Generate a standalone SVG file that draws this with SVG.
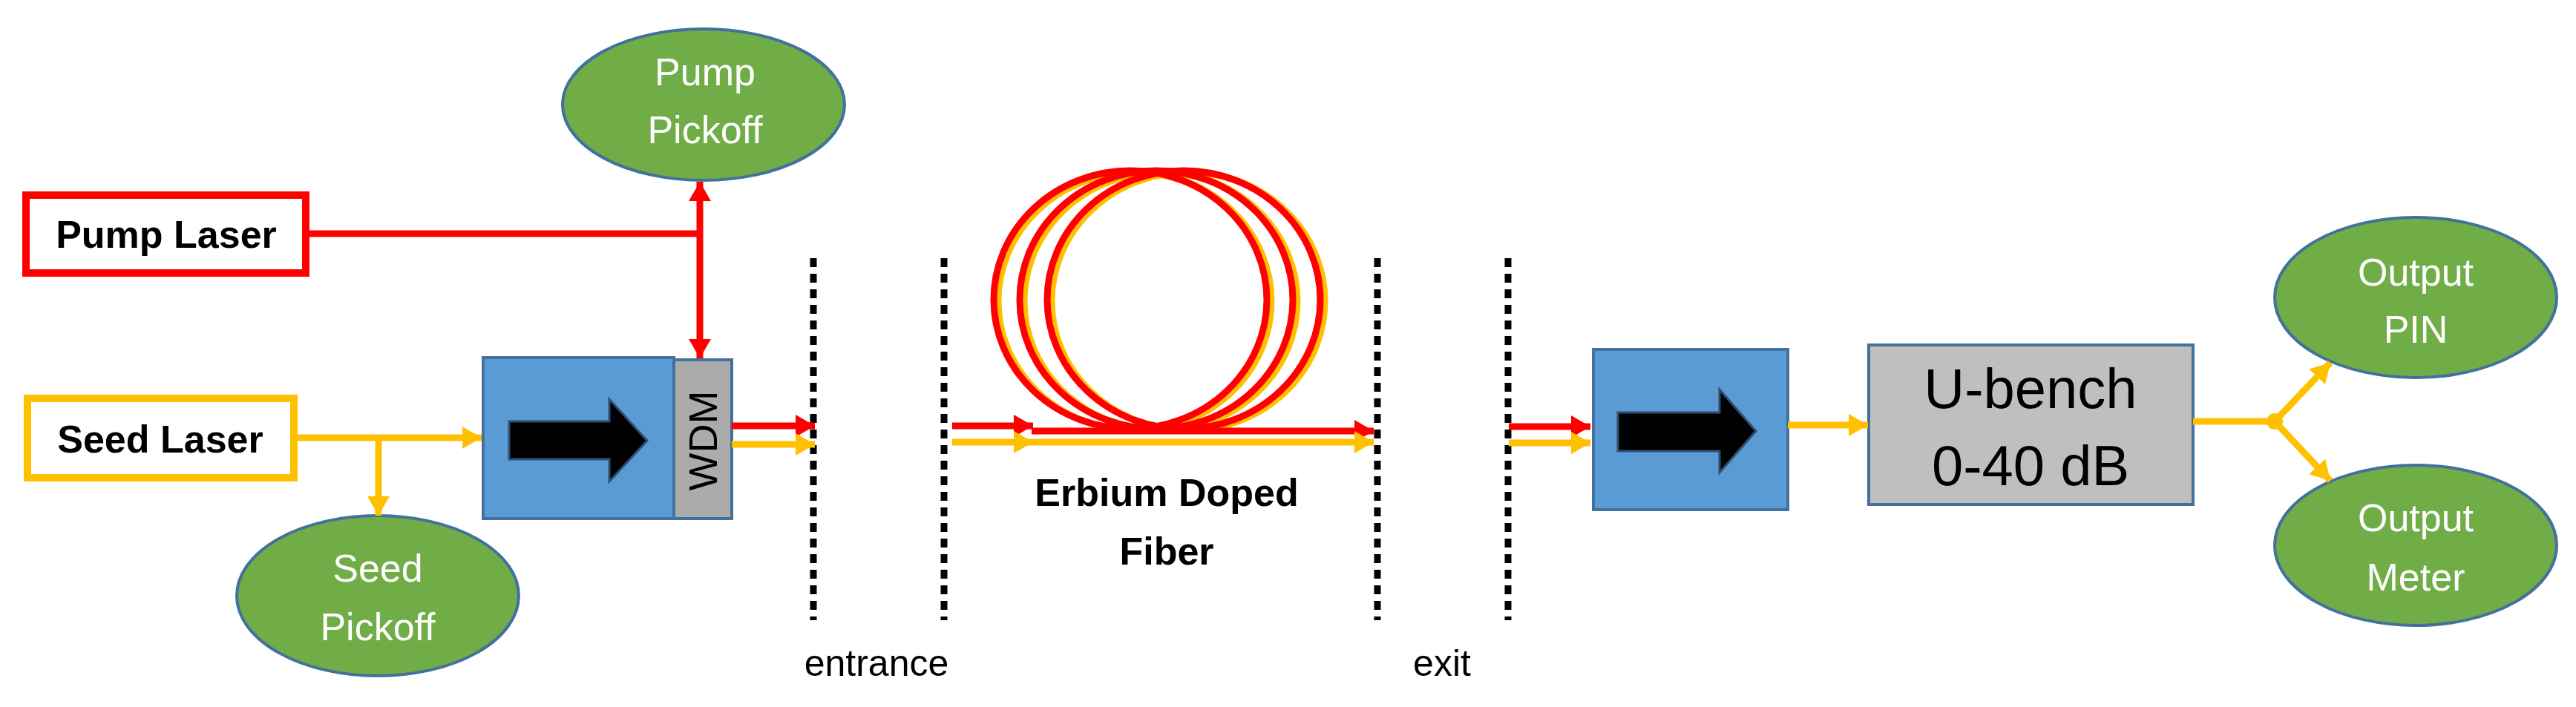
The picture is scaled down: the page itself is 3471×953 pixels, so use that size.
<svg xmlns="http://www.w3.org/2000/svg" width="3471" height="953" viewBox="0 0 3471 953">
<style>
.green{fill:#70AD47;stroke:#41719C;stroke-width:4}
.wt{fill:#fff;font-family:"Liberation Sans",Arial,sans-serif;font-size:52px;text-anchor:middle}
.bt{fill:#000;font-family:"Liberation Sans",Arial,sans-serif;font-size:52px;font-weight:bold;text-anchor:middle}
.nt{fill:#000;font-family:"Liberation Sans",Arial,sans-serif;font-size:50px;text-anchor:middle}
.r{stroke:#FF0000;stroke-width:9;fill:none}
.y{stroke:#FFC000;stroke-width:9;fill:none}
.dot{stroke:#000;stroke-width:9;stroke-dasharray:12 9;fill:none}
.blue{fill:#5B9BD5;stroke:#41719C;stroke-width:4}
</style>
<defs>
<marker id="ar" markerUnits="userSpaceOnUse" markerWidth="28" markerHeight="30" refX="26" refY="15" orient="auto"><path d="M0,0 L26,15 L0,30 Z" fill="#FF0000"/></marker>
<marker id="ay" markerUnits="userSpaceOnUse" markerWidth="28" markerHeight="30" refX="26" refY="15" orient="auto"><path d="M0,0 L26,15 L0,30 Z" fill="#FFC000"/></marker>
</defs>
<rect width="3471" height="953" fill="#fff"/>
<g id="pump-laser"><rect x="35" y="263" width="377" height="105" fill="#fff" stroke="#FF0000" stroke-width="10"/><text class="bt" x="224" y="334">Pump Laser</text></g>
<g id="seed-laser"><rect x="37" y="537" width="359" height="107" fill="#fff" stroke="#FFC000" stroke-width="10"/><text class="bt" x="216" y="610">Seed Laser</text></g>
<g id="pump-pickoff"><ellipse class="green" cx="948" cy="141" rx="190" ry="102"/><text class="wt" x="950" y="115">Pump</text><text class="wt" x="950" y="193">Pickoff</text></g>
<g id="seed-pickoff"><ellipse class="green" cx="509" cy="803" rx="190" ry="108"/><text class="wt" x="509" y="784">Seed</text><text class="wt" x="509" y="863">Pickoff</text></g>
<g id="isolator1"><rect class="blue" x="651" y="482" width="257" height="217"/><path d="M686,568 L821,568 L821,538 L872,594 L821,649 L821,619 L686,619 Z" fill="#000" stroke="#2F4F6F" stroke-width="3"/></g>
<g id="wdm"><rect x="908" y="485" width="78" height="214" fill="#ABABAB" stroke="#41719C" stroke-width="4"/><text transform="translate(966,594) rotate(-90)" style="font-family:'Liberation Sans',Arial,sans-serif;font-size:54px;text-anchor:middle">WDM</text></g>
<g id="fiber">
<ellipse cx="1529" cy="406" rx="184" ry="174" class="y"/><ellipse cx="1564" cy="406" rx="184" ry="174" class="y"/><ellipse cx="1601" cy="406" rx="184" ry="174" class="y"/>
<ellipse cx="1523" cy="404" rx="184" ry="174" class="r"/><ellipse cx="1558" cy="404" rx="184" ry="174" class="r"/><ellipse cx="1595" cy="404" rx="184" ry="174" class="r"/>
<text class="bt" x="1572" y="682">Erbium Doped</text><text class="bt" x="1572" y="761">Fiber</text></g>
<g id="isolator2"><rect class="blue" x="2147" y="471" width="262" height="216"/><path d="M2180,556 L2317,556 L2317,525 L2366,581 L2317,637 L2317,608 L2180,608 Z" fill="#000" stroke="#2F4F6F" stroke-width="3"/></g>
<g id="ubench"><rect x="2518" y="465" width="437" height="215" fill="#BFBFBF" stroke="#41719C" stroke-width="4"/><text x="2736" y="550" style="font-family:'Liberation Sans',Arial,sans-serif;font-size:76px;text-anchor:middle">U-bench</text><text x="2736" y="654" style="font-family:'Liberation Sans',Arial,sans-serif;font-size:76px;text-anchor:middle">0-40 dB</text></g>
<g id="output-pin"><ellipse class="green" cx="3255" cy="401" rx="190" ry="108"/><text class="wt" x="3255" y="385">Output</text><text class="wt" x="3255" y="462">PIN</text></g>
<g id="output-meter"><ellipse class="green" cx="3255" cy="735" rx="190" ry="108"/><text class="wt" x="3255" y="716">Output</text><text class="wt" x="3255" y="796">Meter</text></g>
<g id="markers-text">
<line class="dot" x1="1096" y1="348" x2="1096" y2="836"/>
<line class="dot" x1="1272" y1="348" x2="1272" y2="836"/>
<line class="dot" x1="1856" y1="348" x2="1856" y2="836"/>
<line class="dot" x1="2032" y1="348" x2="2032" y2="836"/>
<text class="nt" x="1181" y="911">entrance</text><text class="nt" x="1943" y="911">exit</text>
</g>
<g id="connectors">
<polyline class="r" points="412,315 943,315"/>
<line class="r" x1="943" y1="315" x2="943" y2="245" marker-end="url(#ar)"/>
<line class="r" x1="943" y1="315" x2="943" y2="483" marker-end="url(#ar)"/>
<line class="y" x1="396" y1="590" x2="649" y2="590" marker-end="url(#ay)"/>
<line class="y" x1="510" y1="590" x2="510" y2="695" marker-end="url(#ay)"/>
<line class="r" x1="986" y1="574" x2="1098" y2="574" marker-end="url(#ar)"/>
<line class="y" x1="986" y1="599" x2="1098" y2="599" marker-end="url(#ay)"/>
<line class="r" x1="1283" y1="574" x2="1392" y2="574" marker-end="url(#ar)"/>
<line class="y" x1="1283" y1="596" x2="1392" y2="596" marker-end="url(#ay)"/>
<line class="r" x1="1390" y1="581" x2="1851" y2="581" marker-end="url(#ar)"/>
<line class="y" x1="1390" y1="596" x2="1851" y2="596" marker-end="url(#ay)"/>
<line class="r" x1="2033" y1="575" x2="2143" y2="575" marker-end="url(#ar)"/>
<line class="y" x1="2033" y1="597" x2="2143" y2="597" marker-end="url(#ay)"/>
<line class="y" x1="2409" y1="573" x2="2517" y2="573" marker-end="url(#ay)"/>
<line class="y" x1="2955" y1="568" x2="3065" y2="568"/>
<circle cx="3065" cy="568" r="11" fill="#FFC000"/>
<line class="y" x1="3065" y1="568" x2="3140" y2="489" marker-end="url(#ay)"/>
<line class="y" x1="3065" y1="568" x2="3140" y2="648" marker-end="url(#ay)"/>
</g>
</svg>
